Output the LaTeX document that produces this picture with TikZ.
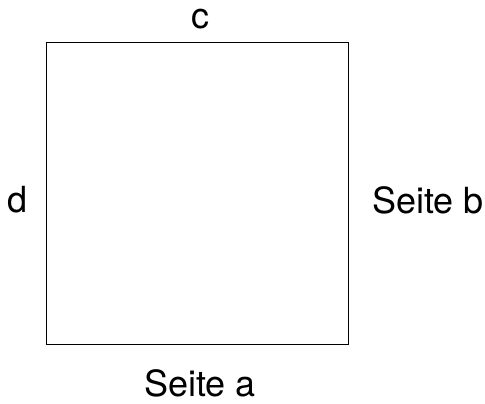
\documentclass[tikz,border=0pt]{standalone}
\usepackage{fontspec}
\setmainfont{TeX Gyre Heros}
\begin{document}
\begin{tikzpicture}[x=1pt,y=-1pt,
  lbl/.style={font=\fontsize{36}{42}\selectfont, inner sep=0pt},
  sq/.style={draw=black, line width=1pt}]
\useasboundingbox (0,0) rectangle (485,404);
\coordinate (tl) at (46,43);
\coordinate (br) at (348,344);
\draw[sq] (tl) rectangle (br);
\node[lbl] (c) at (200,19) {c};
\node[lbl] (d) at (18,200) {d};
\node[lbl] (b) at (428,200) {Seite b};
\node[lbl] (a) at (200,383) {Seite a};
\end{tikzpicture}
\end{document}
